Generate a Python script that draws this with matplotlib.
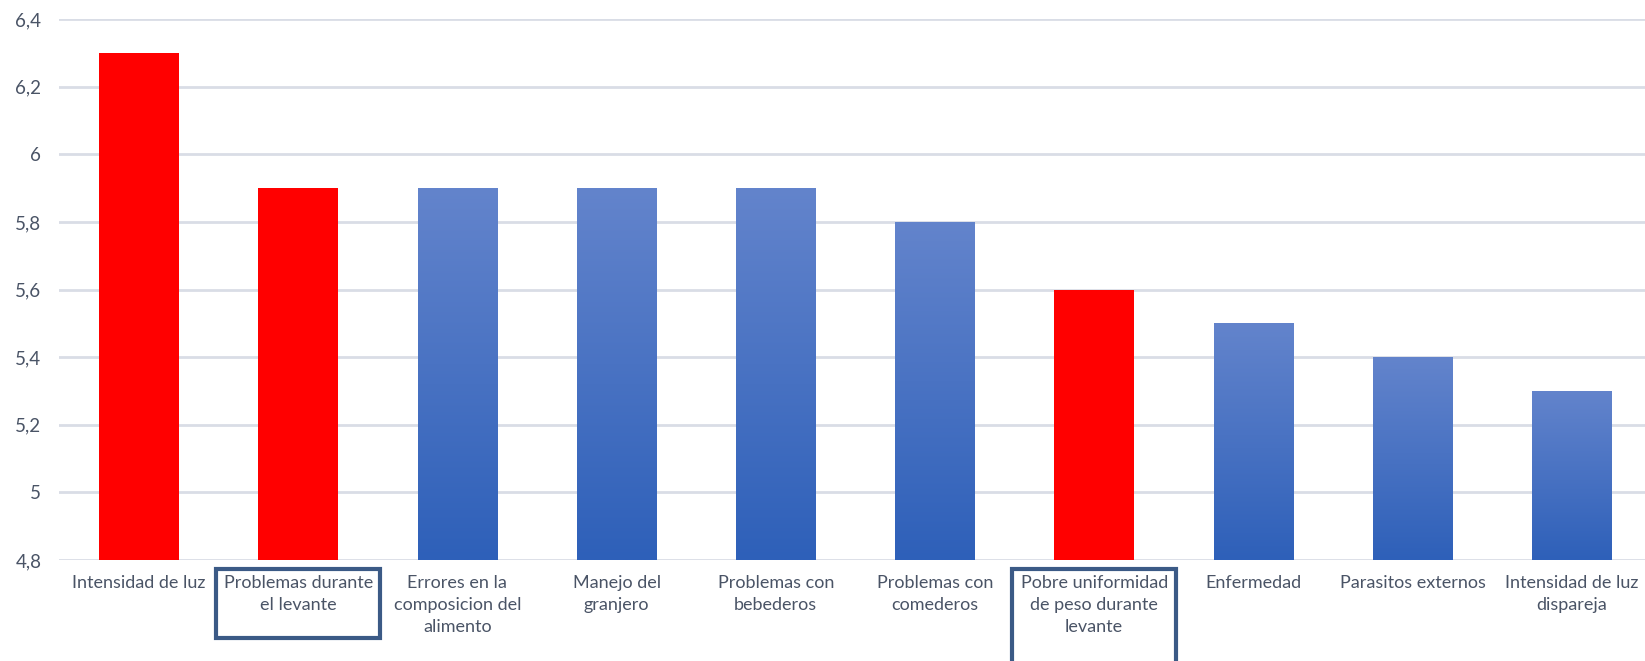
import numpy as np
import matplotlib.pyplot as plt
from matplotlib.patches import Rectangle
from matplotlib.ticker import FuncFormatter
from matplotlib.colors import LinearSegmentedColormap
from matplotlib.transforms import blended_transform_factory

plt.rcParams['font.family'] = ['Lato', 'DejaVu Sans']

# datos
causas = ['Intensidad de luz', 'Problemas durante\nel levante', 'Errores en la\ncomposicion del\nalimento',
          'Manejo del\ngranjero', 'Problemas con\nbebederos', 'Problemas con\ncomederos',
          'Pobre uniformidad\nde peso durante\nlevante', 'Enfermedad', 'Parasitos externos',
          'Intensidad de luz\ndispareja']
valores = [6.3, 5.9, 5.9, 5.9, 5.9, 5.8, 5.6, 5.5, 5.4, 5.3]
resaltadas = [0, 1, 6]      # barras en rojo
recuadradas = [1, 6]        # etiquetas con recuadro

texto = '#4A5466'
W, H = 1645, 661
fig = plt.figure(figsize=(W / 100, H / 100), dpi=100)
ax = fig.add_axes([59.4 / W, 101 / H, (1645 - 59.4) / W, (560 - 19) / H])

x = np.arange(len(causas))
ancho = 0.5
barras = ax.bar(x, [v - 4.8 for v in valores], bottom=4.8, width=ancho, zorder=2, linewidth=0)

# degradado azul (claro arriba, oscuro abajo)
cmap = LinearSegmentedColormap.from_list('azul', ['#2E60B9', '#6384CC'])
grad = np.linspace(0, 1, 256).reshape(-1, 1)
for i, b in enumerate(barras):
    if i in resaltadas:
        b.set_facecolor('#FF0000')
    else:
        b.set_facecolor('none')
        im = ax.imshow(grad, cmap=cmap, origin='lower', aspect='auto', zorder=2,
                       extent=[b.get_x(), b.get_x() + b.get_width(), 4.8, valores[i]])
        im.set_clip_path(b)

ax.set_xlim(-0.5, 9.46)
ax.set_ylim(4.8, 6.4)
ax.set_yticks(np.arange(4.8, 6.41, 0.2))
ax.yaxis.set_major_formatter(FuncFormatter(lambda v, p: f'{v:.1f}'.rstrip('0').rstrip('.').replace('.', ',')))
ax.grid(axis='y', color='#D9DDE6', linewidth=2, zorder=0)
for s in ax.spines.values():
    s.set_visible(False)
ax.tick_params(length=0, colors=texto)
ax.tick_params(axis='y', pad=13, labelsize=13.5)
ax.tick_params(axis='x', pad=11, labelsize=13)
ax.set_xticks(x)
ax.set_xticklabels(causas, linespacing=1.45, va='top')

# recuadros alrededor de dos etiquetas
bt = blended_transform_factory(ax.transData, fig.transFigure)
for i in recuadradas:
    y0 = 1 - 638 / H if i == 1 else 1 - 668 / H
    ax.add_patch(Rectangle((i - 0.515, y0), 1.03, (1 - 569 / H) - y0,
                           transform=bt, fill=False, edgecolor='#3B5A86', linewidth=3,
                           clip_on=False, zorder=5))

plt.savefig('out.png', dpi=100)
